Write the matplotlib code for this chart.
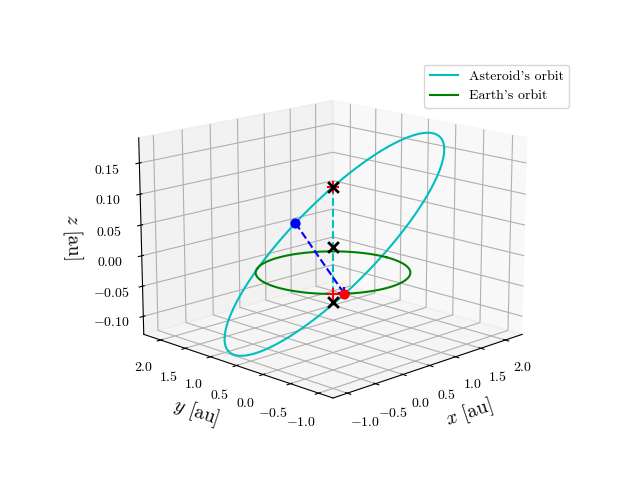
import numpy as np
import matplotlib
matplotlib.use('Agg')
import matplotlib.pyplot as plt

plt.rcParams['font.family'] = 'serif'
plt.rcParams['font.serif'] = ['cmr10']
plt.rcParams['mathtext.fontset'] = 'cm'
plt.rcParams['axes.formatter.use_mathtext'] = True

# asteroid orbit: centre + two axis vectors (au)
orb_c = [0.0, 0.0, 0.045]
orb_u = [1.0, -1.0, 0.15]
orb_v = [-0.72, -0.72, -0.06]
earth_r = 1.0

earth_pos = [-0.6, -0.8, 0.0]
ast_t = 4.35
front_pt = [-0.72, -0.72, 0.0]
bottom_pt = [-0.72, -0.72, -0.012]
middle_pt = [0.0, 0.0, 0.04]

t = np.linspace(0, 2*np.pi, 400)
ox = orb_c[0] + orb_u[0]*np.cos(t) + orb_v[0]*np.sin(t)
oy = orb_c[1] + orb_u[1]*np.cos(t) + orb_v[1]*np.sin(t)
oz = orb_c[2] + orb_u[2]*np.cos(t) + orb_v[2]*np.sin(t)

def orb(tt):
    return [orb_c[i] + orb_u[i]*np.cos(tt) + orb_v[i]*np.sin(tt) for i in range(3)]

ast = orb(ast_t)
top = orb(3*np.pi/2)

fig = plt.figure(figsize=(6.4, 4.8))
ax = fig.add_subplot(projection='3d')
ax.set_box_aspect(None, zoom=1.14)
ax.plot(ox, oy, oz, 'c', label="Asteroid's orbit")
ax.plot(earth_r*np.cos(t), earth_r*np.sin(t), 0*t, 'g', label="Earth's orbit")

ax.plot([top[0], front_pt[0]], [top[1], front_pt[1]], [top[2], front_pt[2]], 'c--')
ax.plot([ast[0], earth_pos[0]], [ast[1], earth_pos[1]], [ast[2], earth_pos[2]], 'b--')
ax.scatter(*ast, color='b', s=40, depthshade=False)
ax.scatter(*earth_pos, color='r', s=40, depthshade=False)
ax.scatter([top[0]], [top[1]], [top[2]], color='r', marker='+', s=80, depthshade=False)
ax.scatter([front_pt[0]], [front_pt[1]], [0], color='r', marker='+', s=80, depthshade=False)
ax.scatter([earth_pos[0]+0.02], [earth_pos[1]+0.02], [0], color='b', marker='+', s=80, depthshade=False)
ax.scatter([top[0], middle_pt[0], bottom_pt[0]], [top[1], middle_pt[1], bottom_pt[1]],
           [top[2], middle_pt[2], bottom_pt[2]],
           color='k', marker='x', s=60, linewidths=2, depthshade=False)

ax.set_xlim(-1.25, 2.35)
ax.set_ylim(-1.25, 2.35)
ax.set_zlim(-0.13, 0.19)
ax.set_xticks([-1.0, -0.5, 0.0, 0.5, 1.0, 1.5, 2.0])
ax.set_yticks([-1.0, -0.5, 0.0, 0.5, 1.0, 1.5, 2.0])
ax.set_zticks([-0.10, -0.05, 0.00, 0.05, 0.10, 0.15])
ax.set_xlabel(r'$x$ [au]', fontsize=14)
ax.set_ylabel(r'$y$ [au]', fontsize=14)
ax.set_zlabel(r'$z$ [au]', fontsize=14)
ax.view_init(elev=15, azim=-135)
ax.legend(loc='upper right', bbox_to_anchor=(0.9, 0.88), bbox_transform=fig.transFigure)
plt.savefig('out.png', dpi=100)
